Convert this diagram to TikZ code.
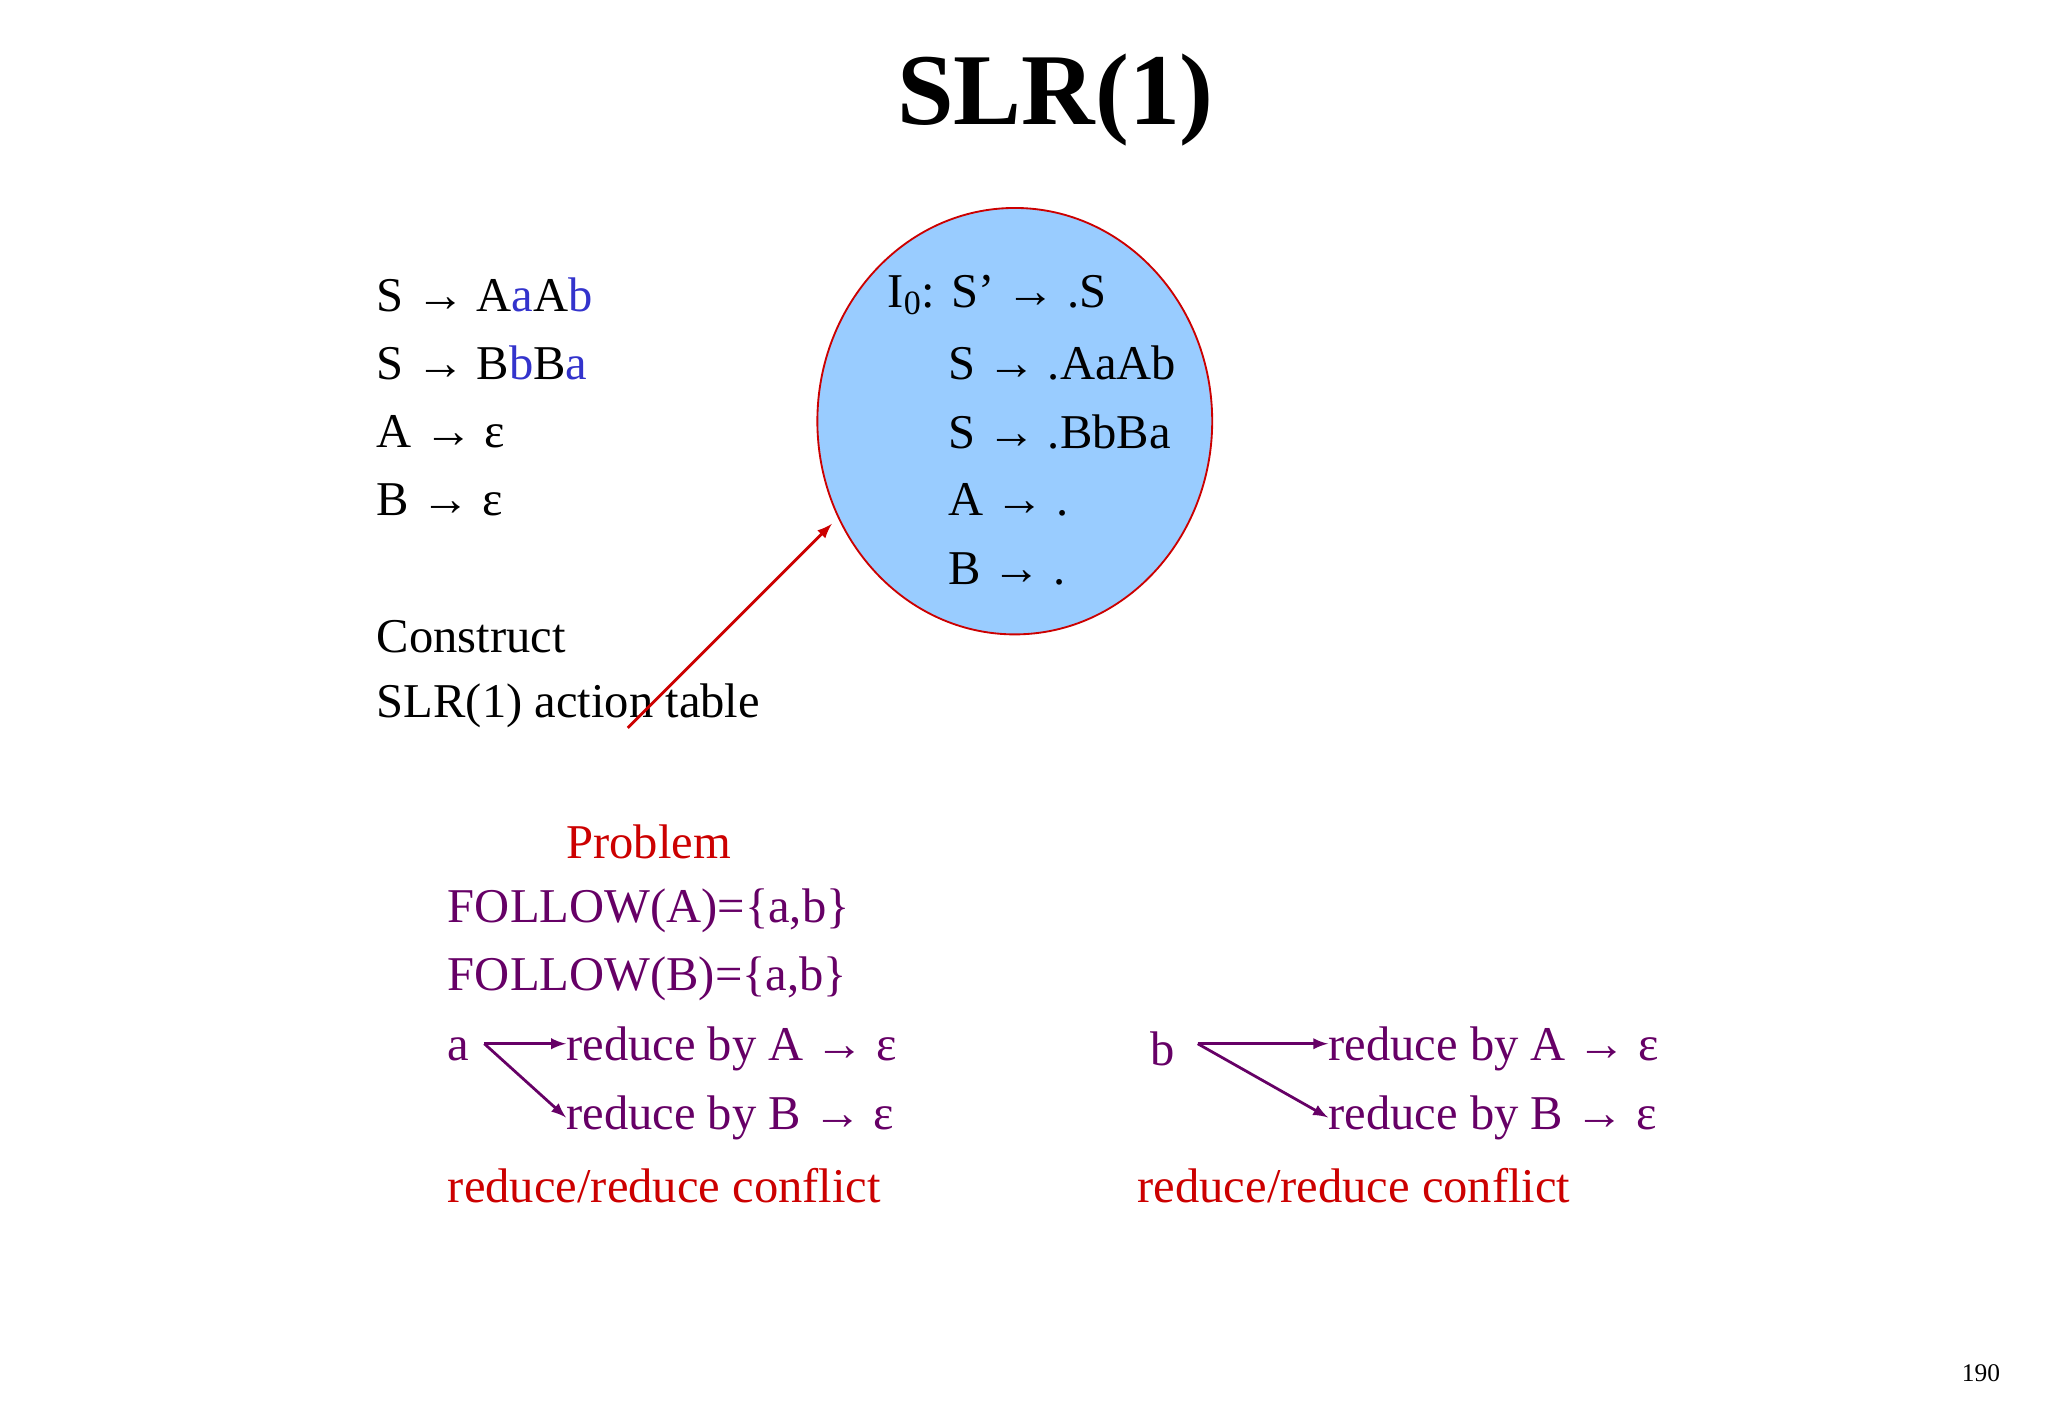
\documentclass[tikz,border=0pt]{standalone}
\usepackage{fontspec}
\setmainfont{Liberation Serif}
\definecolor{pur}{RGB}{102,0,102}
\definecolor{blu}{RGB}{51,51,204}
\definecolor{rd}{RGB}{204,0,0}
\definecolor{lb}{RGB}{153,204,255}
\begin{document}
\begin{tikzpicture}[x=0.02cm,y=-0.02cm,
  t/.style={anchor=west,inner sep=0pt,font=\fontsize{21}{25}\selectfont},
  pa/.style={pur,line width=1.2pt,-latex}]
\useasboundingbox (0,0) rectangle (1556,1077);
\node[font=\fontsize{44}{50}\selectfont\bfseries] (title) at (802,76) {SLR(1)};
\node[t] (g1) at (286,224) {S → A\textcolor{blu}{a}A\textcolor{blu}{b}};
\node[t] (g2) at (286,276) {S → B\textcolor{blu}{b}B\textcolor{blu}{a}};
\node[t] (g3) at (286,328) {A → ε};
\node[t] (g4) at (286,380) {B → ε};
\node[t] (c1) at (286,484) {Construct};
\node[t] (c2) at (286,536) {SLR(1) action table};
\fill[lb] (771,320) ellipse [x radius=150, y radius=162];
\draw[rd,thick] (771,320) ellipse [x radius=150, y radius=162];
\node[t] (i0) at (674,224) {I\textsubscript{0}: S’ → .S};
\node[t] (i1) at (720,276) {S → .AaAb};
\node[t] (i2) at (720,328) {S → .BbBa};
\node[t] (i3) at (720,380) {A → .};
\node[t] (i4) at (720,432) {B → .};
\coordinate (rs) at (477,553);
\coordinate (re) at (632,398);
\draw[rd,line width=1.2pt,-latex] (rs) -- (re);
\node[t,rd] (pb) at (430,640) {Problem};
\node[t,pur] (f1) at (340,692) {FOLLOW(A)=\{a,b\}};
\node[t,pur] (f2) at (340,744) {FOLLOW(B)=\{a,b\}};
\node[t,pur] (a) at (340,797) {a};
\node[t,pur] (ra1) at (430,797) {reduce by A → ε};
\node[t,pur] (ra2) at (430,849) {reduce by B → ε};
\node[t,rd] (rc1) at (340,901) {reduce/reduce conflict};
\node[t,pur] (b) at (874,797) {b};
\node[t,pur] (rb1) at (1009,797) {reduce by A → ε};
\node[t,pur] (rb2) at (1009,849) {reduce by B → ε};
\node[t,rd] (rc2) at (864,901) {reduce/reduce conflict};
\coordinate (as) at (368,793);
\draw[pa] (as) -- (ra1.west |- as);
\draw[pa] (as) -- (ra2.west);
\coordinate (bs) at (910,793);
\draw[pa] (bs) -- (rb1.west |- bs);
\draw[pa] (bs) -- (rb2.west);
\node[font=\fontsize{11}{13}\selectfont] (pg) at (1505,1043) {190};
\end{tikzpicture}
\end{document}
